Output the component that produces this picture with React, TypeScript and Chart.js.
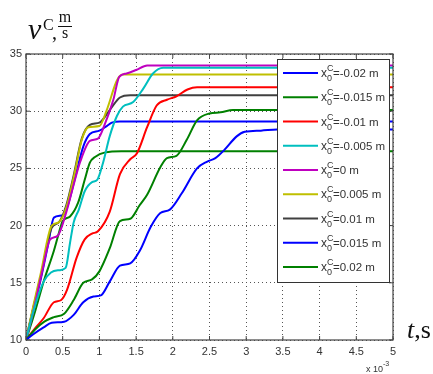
import React, { useEffect, useRef } from "react";
import { Chart, registerables } from "chart.js";

Chart.register(...registerables);

// ---- axis ticks ----
const xTicks = [0, 0.5, 1, 1.5, 2, 2.5, 3, 3.5, 4, 4.5, 5];
const yTicks = [10, 15, 20, 25, 30, 35];

// ---- series (t in units of 1e-3 s, v in m/s) ----
const tNeg020 = [0, 0.1, 0.24, 0.35, 0.52, 0.65, 0.78, 0.92, 1.02, 1.14, 1.28, 1.42, 1.55, 1.7, 1.83, 1.96, 2.12, 2.33, 2.47, 2.58, 2.7, 2.87, 2.98, 3.2, 3.42, 5];
const vNeg020 = [10, 10.5, 11.1, 11.5, 11.6, 12.2, 13.3, 13.8, 13.9, 15.1, 16.5, 16.7, 17.8, 19.9, 21.1, 21.4, 22.8, 25.0, 25.6, 25.9, 26.6, 27.8, 28.2, 28.3, 28.4, 28.4];

const tNeg015 = [0, 0.12, 0.25, 0.38, 0.52, 0.65, 0.78, 0.9, 1.0, 1.14, 1.28, 1.42, 1.55, 1.65, 1.83, 1.92, 2.05, 2.19, 2.33, 2.5, 2.65, 2.82, 5];
const vNeg015 = [10, 10.9, 11.6, 12.0, 12.3, 13.5, 15.0, 15.3, 16.0, 18.0, 20.4, 20.6, 21.8, 22.7, 25.1, 25.9, 26.1, 27.5, 29.2, 29.8, 29.9, 30.1, 30.1];

const tNeg010 = [0, 0.12, 0.24, 0.38, 0.48, 0.56, 0.69, 0.8, 0.9, 0.98, 1.14, 1.28, 1.42, 1.51, 1.65, 1.78, 1.92, 2.05, 2.2, 2.33, 5];
const vNeg010 = [10, 11.0, 11.9, 13.3, 13.5, 14.4, 17.2, 18.8, 19.3, 19.5, 21.2, 24.5, 25.8, 26.3, 28.6, 30.5, 31.0, 31.3, 31.9, 32.1, 32.1];

const tNeg005 = [0, 0.1, 0.24, 0.34, 0.45, 0.54, 0.6, 0.65, 0.72, 0.8, 0.9, 0.97, 1.05, 1.14, 1.24, 1.32, 1.46, 1.6, 1.73, 1.87, 5];
const vNeg005 = [10, 12.5, 15.1, 15.9, 16.1, 16.3, 18.5, 20.3, 21.4, 23.0, 23.8, 24.0, 25.5, 27.8, 29.6, 30.4, 30.8, 32.0, 33.3, 33.8, 33.8];

const tZero = [0, 0.1, 0.22, 0.33, 0.43, 0.55, 0.65, 0.74, 0.87, 0.98, 1.07, 1.19, 1.27, 1.37, 1.5, 1.65, 5];
const vZero = [10, 12.5, 16.0, 18.8, 19.1, 21.2, 23.6, 25.6, 27.4, 27.6, 28.8, 31.0, 33.0, 33.3, 33.6, 34.0, 34.0];

const tPos005 = [0, 0.1, 0.2, 0.35, 0.45, 0.55, 0.65, 0.76, 0.85, 1.0, 1.1, 1.24, 1.32, 5];
const vPos005 = [10, 13.0, 15.8, 20.0, 20.3, 21.6, 24.2, 27.5, 28.6, 28.7, 30.1, 32.7, 33.2, 33.2];

const tPos010 = [0, 0.1, 0.2, 0.35, 0.45, 0.55, 0.65, 0.76, 0.87, 1.0, 1.14, 1.28, 1.42, 5];
const vPos010 = [10, 12.8, 15.5, 19.8, 20.3, 21.8, 24.4, 27.6, 28.8, 29.0, 30.1, 31.2, 31.4, 31.4];

const tPos015 = [0, 0.1, 0.19, 0.3, 0.38, 0.5, 0.56, 0.67, 0.78, 0.87, 1.0, 1.1, 1.17, 1.28, 5];
const vPos015 = [10, 12.8, 15.0, 18.3, 20.7, 20.9, 21.6, 24.2, 26.9, 28.0, 28.3, 28.7, 29.0, 29.1, 29.1];

const tPos020 = [0, 0.11, 0.24, 0.38, 0.45, 0.5, 0.6, 0.71, 0.8, 0.87, 0.94, 1.08, 1.3, 5];
const vPos020 = [10, 12.2, 15.1, 17.8, 19.4, 20.4, 20.8, 22.0, 24.0, 25.5, 26.0, 26.4, 26.5, 26.5];

const seriesLabels = ["-0.02", "-0.015", "-0.01", "-0.005", "0", "0.005", "0.01", "0.015", "0.02"];
const seriesT = [tNeg020, tNeg015, tNeg010, tNeg005, tZero, tPos005, tPos010, tPos015, tPos020];
const seriesV = [vNeg020, vNeg015, vNeg010, vNeg005, vZero, vPos005, vPos010, vPos015, vPos020];
const seriesColors = ["#0000ff", "#008000", "#ff0000", "#00bfbf", "#bf00bf", "#bfbf00", "#404040", "#0000ff", "#008000"];

const SANS = '"Liberation Sans", Arial, sans-serif';
const SERIF = '"Liberation Serif", "Times New Roman", serif';

const decorPlugin = {
  id: "decor",
  afterDraw(chart: any) {
    const ctx = chart.ctx as CanvasRenderingContext2D;
    const a = chart.chartArea;
    const xs = chart.scales.x;
    const ys = chart.scales.y;
    ctx.save();
    // frame
    ctx.strokeStyle = "#444";
    ctx.lineWidth = 1.2;
    ctx.strokeRect(a.left, a.top, a.right - a.left, a.bottom - a.top);
    // inward ticks
    ctx.lineWidth = 1;
    ctx.beginPath();
    xTicks.forEach((v) => {
      const px = xs.getPixelForValue(v);
      ctx.moveTo(px, a.bottom);
      ctx.lineTo(px, a.bottom - 4);
      ctx.moveTo(px, a.top);
      ctx.lineTo(px, a.top + 4);
    });
    yTicks.forEach((v) => {
      const py = ys.getPixelForValue(v);
      ctx.moveTo(a.left, py);
      ctx.lineTo(a.left + 4, py);
      ctx.moveTo(a.right, py);
      ctx.lineTo(a.right - 4, py);
    });
    ctx.stroke();

    // legend
    const lx = 277, ly = 59, lw = 112, lh = 223;
    ctx.fillStyle = "#fff";
    ctx.fillRect(lx, ly, lw, lh);
    ctx.strokeStyle = "#333";
    ctx.lineWidth = 1;
    ctx.strokeRect(lx + 0.5, ly + 0.5, lw, lh);
    chart.data.datasets.forEach((ds: any, i: number) => {
      const y = ly + 14 + i * 24.25;
      ctx.strokeStyle = ds.borderColor;
      ctx.lineWidth = 2;
      ctx.beginPath();
      ctx.moveTo(283, y);
      ctx.lineTo(318, y);
      ctx.stroke();
      ctx.fillStyle = "#333";
      ctx.textBaseline = "alphabetic";
      ctx.textAlign = "left";
      ctx.font = `12px ${SANS}`;
      ctx.fillText("x", 321, y + 4);
      ctx.font = `9px ${SANS}`;
      ctx.fillText("C", 327, y - 2);
      ctx.fillText("0", 327, y + 8);
      ctx.font = `11.5px ${SANS}`;
      ctx.fillText("=" + seriesLabels[i] + " m", 333, y + 4);
    });

    // y title: v^C, m/s
    ctx.fillStyle = "#111";
    ctx.textAlign = "left";
    ctx.font = `italic 30px ${SERIF}`;
    ctx.fillText("v", 28, 39);
    ctx.font = `16px ${SERIF}`;
    ctx.fillText("C", 43, 30);
    ctx.font = `20px ${SERIF}`;
    ctx.fillText(",", 52, 39);
    ctx.textAlign = "center";
    ctx.font = `16px ${SERIF}`;
    ctx.fillText("m", 65, 22);
    ctx.fillText("s", 65, 38);
    ctx.strokeStyle = "#111";
    ctx.lineWidth = 1;
    ctx.beginPath();
    ctx.moveTo(58, 26.5);
    ctx.lineTo(72, 26.5);
    ctx.stroke();

    // x title: t,s
    ctx.textAlign = "left";
    ctx.font = `italic 26px ${SERIF}`;
    ctx.fillText("t", 407, 338);
    const tw = ctx.measureText("t").width;
    ctx.font = `26px ${SERIF}`;
    ctx.fillText(",s", 407 + tw, 338);

    // exponent
    ctx.fillStyle = "#333";
    ctx.font = `9px ${SANS}`;
    ctx.fillText("x 10", 366, 372);
    ctx.font = `7px ${SANS}`;
    ctx.fillText("-3", 383, 366);
    ctx.restore();
  },
};

export default function App() {
  const ref = useRef<HTMLCanvasElement | null>(null);
  useEffect(() => {
    const canvas = ref.current;
    if (!canvas) return;
    const datasets = seriesT.map((ts, i) => ({
      label: seriesLabels[i],
      data: ts.map((t, j) => ({ x: t, y: seriesV[i][j] })),
      borderColor: seriesColors[i],
      backgroundColor: seriesColors[i],
      borderWidth: 2,
      pointRadius: 0,
      fill: false,
      cubicInterpolationMode: "monotone" as const,
    }));
    const chart = new Chart(canvas, {
      type: "line",
      data: { datasets },
      options: {
        responsive: false,
        animation: false,
        layout: { padding: { left: 0, top: 54, right: 40, bottom: 0 } },
        plugins: { legend: { display: false }, tooltip: { enabled: false }, title: { display: false } },
        scales: {
          x: {
            type: "linear",
            min: 0,
            max: 5,
            afterBuildTicks: (s: any) => {
              s.ticks = xTicks.map((v) => ({ value: v }));
            },
            afterFit: (s: any) => {
              s.height = 34;
            },
            grid: { color: "#555", lineWidth: 1, drawTicks: false },
            border: { display: false, dash: [1, 3] },
            ticks: {
              autoSkip: false,
              maxRotation: 0,
              padding: 5,
              color: "#333",
              font: { family: SANS, size: 11 },
              callback: (v: any) => String(v),
            },
          },
          y: {
            type: "linear",
            min: 10,
            max: 35,
            afterBuildTicks: (s: any) => {
              s.ticks = yTicks.map((v) => ({ value: v }));
            },
            afterFit: (s: any) => {
              s.width = 26;
            },
            grid: { color: "#555", lineWidth: 1, drawTicks: false },
            border: { display: false, dash: [1, 3] },
            ticks: {
              padding: 4,
              color: "#333",
              font: { family: SANS, size: 11 },
              callback: (v: any) => String(v),
            },
          },
        },
      },
      plugins: [decorPlugin],
    } as any);
    return () => chart.destroy();
  }, []);
  return (
    <div style={{ position: "absolute", left: 0, top: 0, width: 433, height: 374, background: "#fff" }}>
      <canvas ref={ref} width={433} height={374} style={{ width: 433, height: 374, display: "block" }} />
    </div>
  );
}
